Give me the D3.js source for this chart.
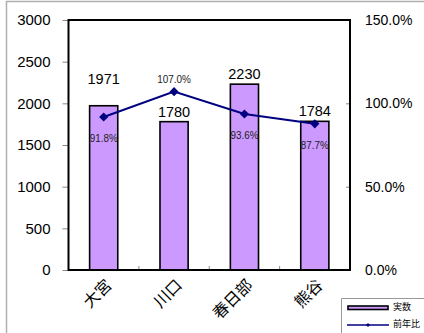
<!DOCTYPE html>
<html><head><meta charset="utf-8">
<script src="https://cdn.jsdelivr.net/npm/d3@7"></script>
<style>body{margin:0;background:#fff}svg{display:block}</style>
</head><body>
<svg id="c" width="424" height="333"></svg>
<script>
const categories = ["大宮", "川口", "春日部", "熊谷"];
const counts = [1971, 1780, 2230, 1784];
const ratios = [91.8, 107.0, 93.6, 87.7];
const leftTicks = [0, 500, 1000, 1500, 2000, 2500, 3000];
const rightTicks = [0, 50, 100, 150];
const countLabelGap = [22, 5, 5, 5];
const ratioLabelPos = ["below", "above", "below", "below"];
const legendNames = ["実数", "前年比"];

const svg = d3.select("#c");
const W = 424, H = 333;
const m = {l: 68.5, r: 350, t: 20, b: 270};
const jp = "'Noto Sans CJK JP', sans-serif";
const lat = "'Liberation Sans', Arial, sans-serif";

// outer chart frame
svg.append("path").attr("d", `M6.5,${H} V1.5 H${W}`).attr("fill","none").attr("stroke","#b0b0b0").attr("stroke-width",1.5);

const x = d3.scaleBand().domain(categories).range([m.l, m.r]).paddingInner(0).paddingOuter(0);
const y = d3.scaleLinear().domain([0, 3000]).range([m.b, m.t]);
const y2 = d3.scaleLinear().domain([0, 150]).range([m.b, m.t]);
const bw = x.bandwidth() * 0.4;

// left axis
const la = svg.append("g").attr("transform", `translate(${m.l},0)`)
  .call(d3.axisLeft(y).tickValues(leftTicks).tickSize(6).tickPadding(12).tickFormat(d3.format("d")));
la.select(".domain").remove();
la.selectAll("line").attr("stroke","#888");
la.selectAll("text").attr("font-family", lat).attr("font-size", 15).attr("fill","#000");

// right axis
const ra = svg.append("g").attr("transform", `translate(${m.r},0)`)
  .call(d3.axisRight(y2).tickValues(rightTicks).tickSize(-4).tickPadding(15).tickFormat(d => d.toFixed(1) + "%"));
ra.select(".domain").remove();
ra.selectAll("line").attr("stroke","#888");
ra.selectAll("text").attr("font-family", lat).attr("font-size", 14).attr("fill","#000");

// bottom ticks at category boundaries
svg.append("g").selectAll("line").data(categories.slice(1)).join("line")
  .attr("x1", d => x(d)).attr("x2", d => x(d)).attr("y1", m.b).attr("y2", m.b - 4)
  .attr("stroke", "#888");

// bars
svg.append("g").selectAll("rect").data(counts).join("rect")
  .attr("x", (d,i) => x(categories[i]) + x.bandwidth()/2 - bw/2)
  .attr("y", d => y(d)).attr("width", bw).attr("height", d => y(0) - y(d))
  .attr("fill", "#CC99FF").attr("stroke", "#000").attr("stroke-width", 1.6);

// plot border
svg.append("rect").attr("x", m.l).attr("y", m.t).attr("width", m.r - m.l).attr("height", m.b - m.t)
  .attr("fill", "none").attr("stroke", "#000").attr("stroke-width", 2);

// bar labels
svg.append("g").selectAll("text").data(counts).join("text")
  .attr("x", (d,i) => x(categories[i]) + x.bandwidth()/2)
  .attr("y", (d,i) => y(d) - countLabelGap[i])
  .attr("text-anchor", "middle").attr("font-family", lat).attr("font-size", 14.5).attr("fill", "#000")
  .text(d => d);

// line
const cx = i => x(categories[i]) + x.bandwidth()/2;
const line = d3.line().x((d,i) => cx(i)).y(d => y2(d));
svg.append("path").datum(ratios).attr("d", line).attr("fill","none").attr("stroke","#000080").attr("stroke-width",2);
const sym = d3.symbol().type(d3.symbolSquare).size(42);
svg.append("g").selectAll("path").data(ratios).join("path")
  .attr("d", sym).attr("transform", (d,i) => `translate(${cx(i)},${y2(d)}) rotate(45)`)
  .attr("fill", "#000080");

// ratio labels (condensed)
svg.append("g").selectAll("text").data(ratios).join("text")
  .attr("x", (d,i) => cx(i))
  .attr("y", (d,i) => ratioLabelPos[i] === "above" ? y2(d) - 9 : y2(d) + 25)
  .attr("text-anchor", "middle").attr("font-family", lat).attr("font-size", 11).attr("fill", "#222")
  .text(d => d.toFixed(1) + "%")
  .attr("textLength", d => (d.toFixed(1) + "%").length * 5.6)
  .attr("lengthAdjust", "spacingAndGlyphs");

// category labels rotated
svg.append("g").selectAll("text").data(categories).join("text")
  .attr("transform", (d) => `translate(${x(d) + x.bandwidth()/2 + 6},${m.b + 13}) rotate(-45)`)
  .attr("text-anchor", "end").attr("dominant-baseline","middle")
  .attr("font-family", jp).attr("font-size", 16).attr("fill", "#000")
  .text(d => d);

// legend
const lg = svg.append("g");
lg.append("path").attr("d", `M341.5,${H} V298.5 H${W}`).attr("fill","none").attr("stroke","#999").attr("stroke-width",1);
lg.append("rect").attr("x", 348).attr("y", 306).attr("width", 40).attr("height", 3.5)
  .attr("fill", "#CC99FF").attr("stroke", "#000").attr("stroke-width", 1.6);
lg.append("line").attr("x1", 347).attr("x2", 389).attr("y1", 325).attr("y2", 325).attr("stroke","#000080").attr("stroke-width",1.5);
lg.append("path").attr("d", d3.symbol().type(d3.symbolSquare).size(8)).attr("transform","translate(368,325) rotate(45)").attr("fill","#000080");
lg.selectAll("text.l").data(legendNames).join("text").attr("class","l")
  .attr("x", 393).attr("y", (d,i) => 308 + i*17).attr("dominant-baseline","middle")
  .attr("font-family", jp).attr("font-size", 9).attr("fill","#000").text(d => d);
</script>
</body></html>
